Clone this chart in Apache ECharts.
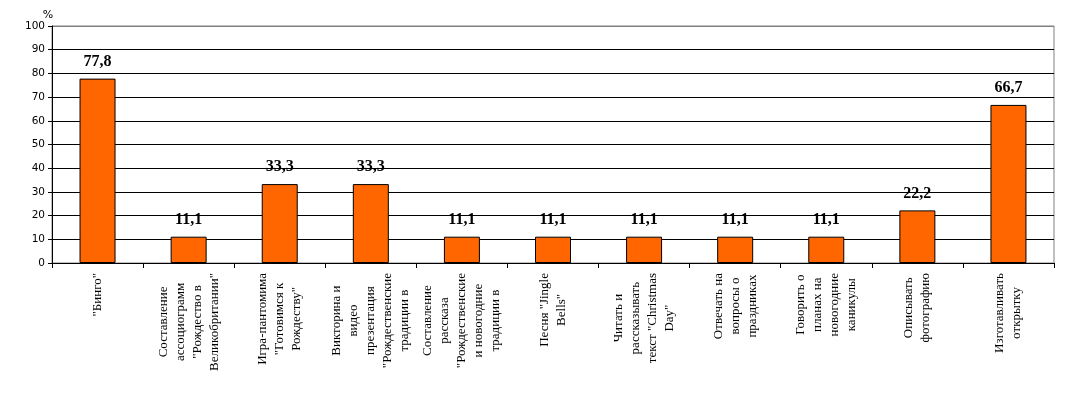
<!DOCTYPE html>
<html>
<head>
<meta charset="utf-8">
<script src="https://cdn.jsdelivr.net/npm/echarts@6/dist/echarts.min.js"></script>
<style>html,body{margin:0;padding:0;background:#fff;}#c{width:1069px;height:396px;}</style>
</head>
<body>
<div id="c"></div>
<script>
var categories = [
  '"Бинго"',
  'Составление\nассоциограмм\n"Рождество в\nВеликобритании"',
  'Игра-пантомима\n"Готовимся к\nРождеству"',
  'Викторина и\nвидео\nпрезентация\n"Рождественские\nтрадиции в',
  'Составление\nрассказа\n"Рождественские\nи новогодние\nтрадиции в',
  'Песня "Jingle\nBells"',
  'Читать и\nрассказывать\nтекст "Christmas\nDay"',
  'Отвечать на\nвопросы о\nпраздниках',
  'Говорить о\nпланах на\nновогодние\nканикулы',
  'Описывать\nфотографию',
  'Изготавливать\nоткрытку'
];
var values = [77.8, 11.1, 33.3, 33.3, 11.1, 11.1, 11.1, 11.1, 11.1, 22.2, 66.7];
var yTicks = [0, 10, 20, 30, 40, 50, 60, 70, 80, 90, 100];

var chart = echarts.init(document.getElementById('c'));
var splitColors = yTicks.map(function (t, i) { return i === yTicks.length - 1 ? '#808080' : '#000000'; });
chart.setOption({
  animation: false,
  backgroundColor: '#ffffff',
  grid: { left: 52, right: 15, top: 26, bottom: 133, show: true, borderColor: '#808080', borderWidth: 1, backgroundColor: 'transparent' },
  xAxis: {
    type: 'category',
    data: categories,
    boundaryGap: true,
    axisLine: { lineStyle: { color: '#000', width: 1 } },
    axisTick: { show: true, length: 5, lineStyle: { color: '#000' } },
    axisLabel: {
      interval: 0,
      rotate: 90,
      margin: 10,
      color: '#000',
      fontFamily: 'Liberation Serif',
      fontSize: 13,
      lineHeight: 17,
      formatter: function (v) {
        return v.split('\n').map(function (l) { return '{c|' + l + '}'; }).join('\n');
      },
      rich: { c: { align: 'center', fontFamily: 'Liberation Serif', fontSize: 13, lineHeight: 17, color: '#000' } }
    }
  },
  yAxis: {
    type: 'value',
    min: 0,
    max: 100,
    interval: 10,
    name: '%',
    nameLocation: 'end',
    nameGap: 3,
    nameTextStyle: { color: '#000', fontFamily: 'DejaVu Sans', fontSize: 11, align: 'center', verticalAlign: 'bottom', lineHeight: 11, padding: [0, 0, 0, -8] },
    axisLine: { show: true, lineStyle: { color: '#000', width: 1 } },
    axisTick: { show: true, length: 4, lineStyle: { color: '#000' } },
    axisLabel: { color: '#000', fontFamily: 'DejaVu Sans', fontSize: 10.5, margin: 7 },
    splitLine: { show: true, lineStyle: { color: splitColors, width: 1 } }
  },
  series: [{
    type: 'bar',
    data: values,
    barWidth: 36,
    itemStyle: { color: '#FF6600', borderColor: '#000', borderWidth: 1 },
    label: {
      show: true,
      position: 'top',
      distance: 9,
      color: '#000',
      fontFamily: 'Liberation Serif',
      fontWeight: 'bold',
      fontSize: 16,
      formatter: function (p) { return String(p.value).replace('.', ','); }
    }
  }]
});
</script>
</body>
</html>
